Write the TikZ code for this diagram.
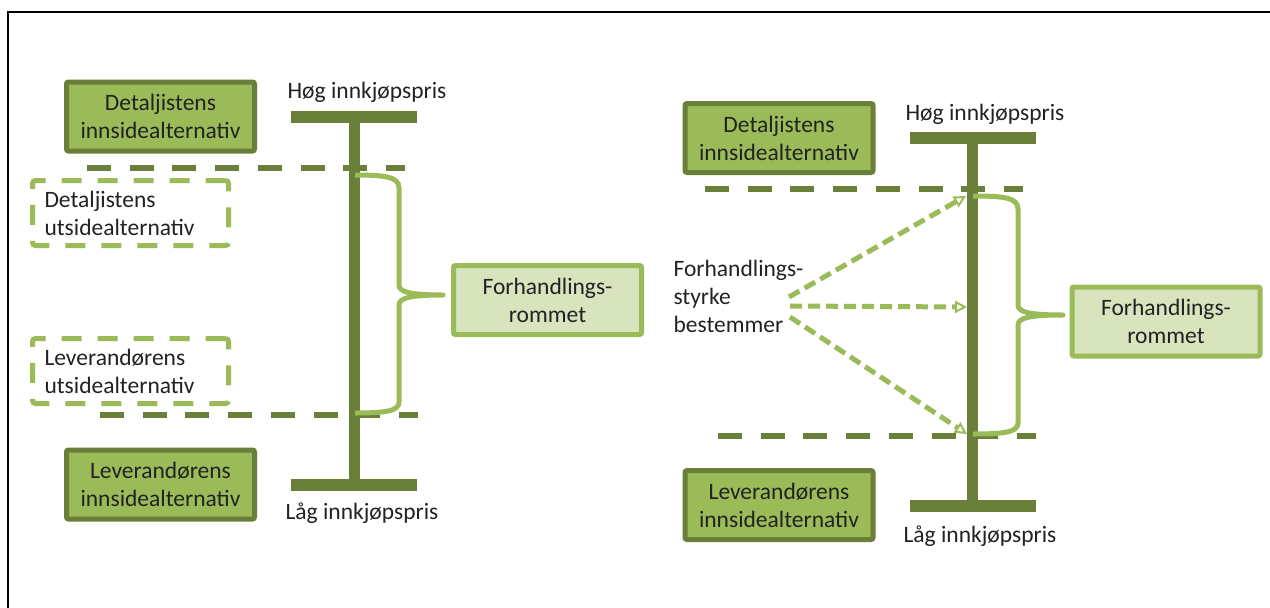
\documentclass[tikz,border=0pt]{standalone}
\usepackage{fontspec}
\setmainfont{Carlito}
\usetikzlibrary{arrows.meta}
\definecolor{olivedark}{HTML}{6A7F3A}
\definecolor{olive}{HTML}{9BBB59}
\definecolor{olivepale}{HTML}{D7E4BD}
\definecolor{ink}{HTML}{222222}

\begin{document}
\begin{tikzpicture}[x=1pt,y=-1pt,font=\fontsize{23.5}{28}\selectfont,text=ink,
    inside/.style={draw=olivedark,fill=olive,line width=5,rounded corners=2,
        minimum width=188,minimum height=69,inner sep=0,align=center},
    outside/.style={draw=olive,line width=5,dash pattern=on 20 off 16,rounded corners=3,
        minimum width=196,minimum height=65,inner sep=0,text width=172,align=left},
    room/.style={draw=olive,fill=olivepale,line width=5,rounded corners=2,
        minimum width=188,minimum height=69,inner sep=0,align=center},
    bar/.style={olivedark,line width=12},
    pole/.style={olivedark,line width=11},
    limit/.style={olivedark,line width=6,dash pattern=on 24 off 18.7},
    brace/.style={olive,line width=5,line join=round},
    power/.style={olive,line width=5,dash pattern=on 12 off 6,
        -{Triangle[open,length=12,width=12,line width=2]}}]

    \useasboundingbox (0,0) rectangle (1270,608);
    %Frame
    \draw[line width=2.5] (8,640) -- (8,12) -- (1290,12);

    %Left scale
    \node[anchor=base] (hoyL) at (367,98) {Høg innkjøpspris};
    \node[anchor=base] (lagL) at (362,519) {Låg innkjøpspris};
    \draw[bar] (291,117) -- (417,117);
    \draw[bar] (291,485) -- (417,485);
    \draw[pole] (354.5,117) -- (354.5,485);
    \draw[limit] (87,168) -- (405,168);
    \draw[limit] (100,415) -- (418,415);
    %Left alternatives
    \node[inside] (detL) at (160.5,116.5) {Detaljistens\\innsidealternativ};
    \node[inside] (levL) at (160.5,484.5) {Leverandørens\\innsidealternativ};
    \node[outside] (utDet) at (130.5,213) {Detaljistens\\utsidealternativ};
    \node[outside] (utLev) at (130.5,371) {Leverandørens\\utsidealternativ};
    %Left bargaining range
    \draw[brace] (355,175) .. controls (386,175) and (399,177) .. (399,188) -- (399,285)
        .. controls (399,292) and (410,295) .. (443,295)
        .. controls (410,295) and (399,298) .. (399,305) -- (399,402)
        .. controls (399,411) and (386,413) .. (355,413);
    \node[room] (romL) at (547.5,300) {Forhandlings-\\rommet};

    %Right scale
    \node[anchor=base] (hoyR) at (985,120) {Høg innkjøpspris};
    \node[anchor=base] (lagR) at (980,542) {Låg innkjøpspris};
    \draw[bar] (910,138) -- (1036,138);
    \draw[bar] (910,506) -- (1036,506);
    \draw[pole] (972.5,138) -- (972.5,506);
    \draw[limit] (705,189) -- (1023,189);
    \draw[limit] (718,436) -- (1036,436);
    %Right alternatives
    \node[inside] (detR) at (779,138) {Detaljistens\\innsidealternativ};
    \node[inside] (levR) at (779,505) {Leverandørens\\innsidealternativ};
    %Right bargaining range
    \draw[brace] (973,196) .. controls (1005,196) and (1018,198) .. (1018,209) -- (1018,305)
        .. controls (1018,312) and (1029,315) .. (1063,315)
        .. controls (1029,315) and (1018,318) .. (1018,325) -- (1018,423)
        .. controls (1018,432) and (1005,434) .. (973,434);
    \node[room] (romR) at (1166,321.5) {Forhandlings-\\rommet};

    %Bargaining power
    \node[anchor=base west,align=left] (styrke) at (670,332)
        {Forhandlings-\\styrke\\bestemmer};
    \coordinate (fromHi) at (789,297);
    \coordinate (fromMid) at (790,306);
    \coordinate (fromLo) at (790,317);
    \coordinate (toHi) at (966,196);
    \coordinate (toMid) at (967,307);
    \coordinate (toLo) at (967,434);
    \draw[power] (fromHi) -- (toHi);
    \draw[power] (fromMid) -- (toMid);
    \draw[power] (fromLo) -- (toLo);
\end{tikzpicture}
\end{document}
